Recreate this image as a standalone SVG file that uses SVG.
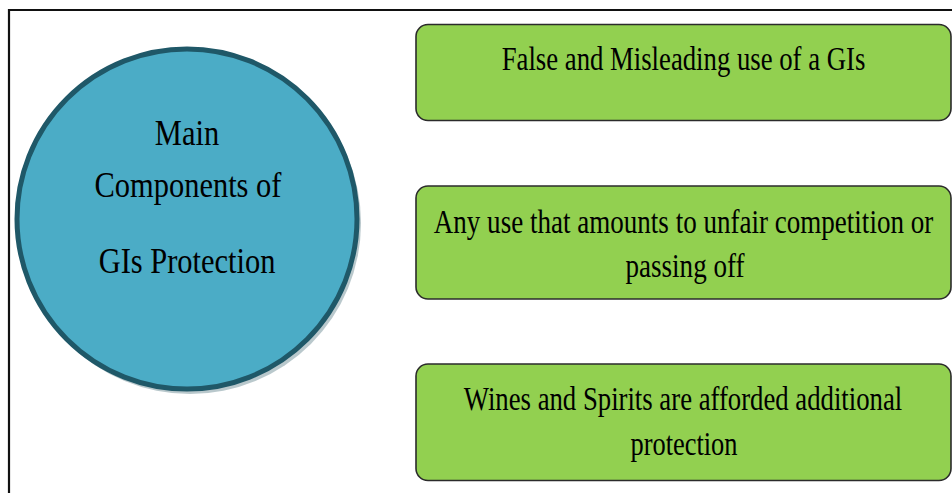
<svg xmlns="http://www.w3.org/2000/svg" width="952" height="493" viewBox="0 0 952 493">
<style>
.t{font-family:"Liberation Serif","Times New Roman",serif;fill:#000;text-anchor:middle}
.box{fill:#92d050;stroke:#2b2b2b;stroke-width:1.6}
</style>
<rect x="0" y="0" width="952" height="493" fill="#fff"/>
<path d="M9 493 V10 H952" fill="none" stroke="#111" stroke-width="2.2"/>
<g id="main">
<circle cx="190" cy="223" r="171" fill="#7f9aa3" opacity="0.55"/>
<circle cx="187" cy="219" r="170" fill="#4bacc6" stroke="#1f5868" stroke-width="5"/>
<g class="t" font-size="35">
<text transform="translate(187,145) scale(0.87,1)">Main</text>
<text transform="translate(188,197) scale(0.87,1)">Components of</text>
<text transform="translate(187,273) scale(0.87,1)">GIs Protection</text>
</g>
</g>
<g id="connectors"></g>
<g id="box1">
<rect class="box" x="416" y="24.5" width="535" height="96" rx="12"/>
<text class="t" font-size="33" transform="translate(683.5,70) scale(0.81,1)">False and Misleading use of a GIs</text>
</g>
<g id="box2">
<rect class="box" x="416" y="186" width="535" height="113" rx="12"/>
<text class="t" font-size="33" transform="translate(683.5,233) scale(0.82,1)">Any use that amounts to unfair competition or</text>
<text class="t" font-size="33" transform="translate(685,277) scale(0.82,1)">passing off</text>
</g>
<g id="box3">
<rect class="box" x="416" y="364" width="535" height="116.5" rx="12"/>
<text class="t" font-size="33" transform="translate(683,410) scale(0.81,1)">Wines and Spirits are afforded additional</text>
<text class="t" font-size="33" transform="translate(684,455) scale(0.8,1)">protection</text>
</g>
</svg>
